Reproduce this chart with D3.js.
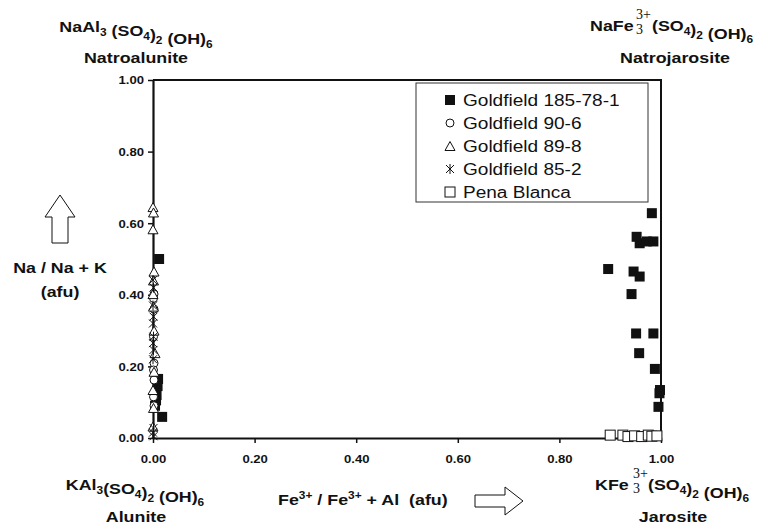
<!DOCTYPE html>
<html>
<head>
<meta charset="utf-8">
<script src="https://cdn.jsdelivr.net/npm/d3@7"></script>
<style>
  body { margin: 0; background: #fff; }
  svg { display: block; font-family: "Liberation Sans", Arial, sans-serif; }
</style>
</head>
<body>
<svg id="svg" width="760" height="525"></svg>
<script>
"use strict";

// x = Fe3+/(Fe3+ + Al), y = Na/(Na + K)
const seriesNames = ["Goldfield 185-78-1", "Goldfield 90-6", "Goldfield 89-8", "Goldfield 85-2", "Pena Blanca"];

const gf185 = [
    [0.012, 0.50], [0.010, 0.165], [0.009, 0.145], [0.007, 0.12], [0.006, 0.105],
    [0.004, 0.09], [0.018, 0.059],
    [0.982, 0.628], [0.952, 0.562], [0.958, 0.544], [0.972, 0.549], [0.985, 0.549],
    [0.896, 0.472], [0.946, 0.465], [0.958, 0.451], [0.942, 0.402],
    [0.951, 0.292], [0.985, 0.292], [0.957, 0.237], [0.988, 0.193],
    [0.998, 0.134], [0.997, 0.125], [0.995, 0.087]
];
const gf906 = [
    [0.002, 0.402], [0.001, 0.39], [0.002, 0.36], [0.001, 0.283], [0.002, 0.209],
    [0.001, 0.19], [0.002, 0.162], [0.001, 0.115], [0.002, 0.09]
];
const gf898 = [
    [0.000, 0.645], [0.001, 0.63], [0.000, 0.583], [0.002, 0.465], [0.001, 0.44],
    [0.000, 0.402], [0.001, 0.367], [0.002, 0.30], [0.004, 0.237], [0.002, 0.185],
    [0.000, 0.134], [0.001, 0.084], [0.000, 0.032]
];
const gf852 = [
    [0.000, 0.441], [0.001, 0.42], [0.000, 0.37], [0.001, 0.339], [0.000, 0.32],
    [0.001, 0.283], [0.000, 0.265], [0.001, 0.246], [0.000, 0.22],
    [0.001, 0.028], [0.000, 0.015], [0.001, 0.005]
];
const penaBlanca = [
    [0.900, 0.008], [0.925, 0.008], [0.935, 0.004], [0.948, 0.006],
    [0.962, 0.004], [0.975, 0.008], [0.982, 0.005], [0.992, 0.006]
];
const xTicks = [0, 0.2, 0.4, 0.6, 0.8, 1.0];
const yTicks = [0, 0.2, 0.4, 0.6, 0.8, 1.0];

const stretch = 1.19;
var svg = d3.select("svg");

var x = d3.scaleLinear().domain([0, 1]).range([153, 661]);
var y = d3.scaleLinear().domain([0, 1]).range([438, 80]);
var fmt = d3.format(".2f");

// frame (top and right)
svg.append("path")
    .attr("d", "M" + x(0) + "," + y(1) + "H" + x(1) + "V" + y(0))
    .attr("fill", "none").attr("stroke", "#111").attr("stroke-width", 2);

// axes
var xAxis = svg.append("g")
    .attr("transform", "translate(0," + y(0) + ")")
    .call(d3.axisBottom(x).tickValues(xTicks).tickFormat(fmt).tickSize(5).tickSizeOuter(0));
var yAxis = svg.append("g")
    .attr("transform", "translate(" + x(0) + ",0)")
    .call(d3.axisLeft(y).tickValues(yTicks).tickFormat(fmt).tickSize(5).tickSizeOuter(0));

[xAxis, yAxis].forEach(a => {
    a.select(".domain").attr("stroke", "#111").attr("stroke-width", 2.2);
    a.selectAll(".tick line").attr("stroke", "#111").attr("stroke-width", 1.5);
    a.selectAll(".tick text")
        .attr("font-family", "Liberation Sans, Arial, sans-serif")
        .attr("font-size", 11).attr("font-weight", "bold").attr("fill", "#111");
});
xAxis.selectAll(".tick text").attr("y", 0).attr("dy", 0)
    .attr("transform", "translate(0,25) scale(" + stretch + ",1)");
yAxis.selectAll(".tick text").attr("x", 0).attr("dy", "0.35em")
    .attr("transform", "translate(-9,0) scale(" + stretch + ",1)");

// legend box
svg.append("rect")
    .attr("x", 416).attr("y", 83).attr("width", 232).attr("height", 119)
    .attr("fill", "#fff").attr("stroke", "#333").attr("stroke-width", 1);

// symbols
function symbol(sel, type, s) {
    if (type === 0) {
        sel.append("rect").attr("x", -s / 2).attr("y", -s / 2).attr("width", s).attr("height", s)
            .attr("fill", "#111");
    } else if (type === 1) {
        sel.append("circle").attr("r", s / 2 - 0.5)
            .attr("fill", "#fff").attr("stroke", "#111").attr("stroke-width", 1);
    } else if (type === 2) {
        var h = s * 0.9;
        sel.append("path").attr("d", "M0," + (-h / 2) + "L" + (s / 2) + "," + (h / 2) + "L" + (-s / 2) + "," + (h / 2) + "Z")
            .attr("fill", "#fff").attr("stroke", "#111").attr("stroke-width", 1);
    } else if (type === 3) {
        var r = s / 2 - 1;
        sel.append("path")
            .attr("d", "M" + (-r) + "," + (-r) + "L" + r + "," + r + "M" + (-r) + "," + r + "L" + r + "," + (-r) + "M0," + (-r - 1) + "V" + (r + 1))
            .attr("fill", "none").attr("stroke", "#111").attr("stroke-width", 1);
    } else {
        sel.append("rect").attr("x", -s / 2).attr("y", -s / 2).attr("width", s).attr("height", s)
            .attr("fill", "#fff").attr("stroke", "#111").attr("stroke-width", 1);
    }
}

var allSeries = [gf185, gf906, gf898, gf852, penaBlanca];
allSeries.forEach((data, i) => {
    svg.append("g").selectAll("g")
        .data(data)
        .enter()
        .append("g")
            .attr("transform", d => "translate(" + x(d[0]) + "," + y(d[1]) + ")")
            .each(function() { symbol(d3.select(this), i, i === 1 ? 9 : 10); });
});

// legend entries
var leg = svg.append("g").selectAll("g")
    .data(seriesNames)
    .enter()
    .append("g")
        .attr("transform", (d, i) => "translate(450," + (100 + i * 23) + ")");
leg.each(function(d, i) { symbol(d3.select(this), i, i === 1 ? 9 : 10); });
leg.append("text")
    .attr("transform", "translate(13,5.5) scale(" + stretch + ",1)")
    .attr("font-size", 16).attr("fill", "#111")
    .text(d => d);

// bold stretched label helper
function label(txt, px, py, anchor) {
    return svg.append("text")
        .attr("transform", "translate(" + px + "," + py + ") scale(" + stretch + ",1)")
        .attr("text-anchor", anchor || "middle")
        .attr("font-size", 15).attr("font-weight", "bold").attr("fill", "#111")
        .text(txt);
}
function formula(t, parts) {
    parts.forEach(p => {
        if (p[1]) { t.append("tspan").attr("font-size", 10).attr("dy", 4).text(p[0]); t.append("tspan").attr("dy", -4).text(""); }
        else t.append("tspan").text(p[0]);
    });
}
function stacked(px, py) {
    svg.append("text").attr("x", px).attr("y", py - 12)
        .attr("font-family", "Liberation Serif, Times New Roman, serif")
        .attr("font-size", 14).attr("fill", "#111").text("3+");
    svg.append("text").attr("x", px).attr("y", py + 3)
        .attr("font-family", "Liberation Serif, Times New Roman, serif")
        .attr("font-size", 14).attr("fill", "#111").text("3");
}

// corner mineral labels
formula(label("", 136, 32), [["NaAl"], ["3", 1], [" (SO"], ["4", 1], [")"], ["2", 1], [" (OH)"], ["6", 1]]);
label("Natroalunite", 136, 63);
formula(label("", 135, 490), [["KAl"], ["3", 1], ["(SO"], ["4", 1], [")"], ["2", 1], [" (OH)"], ["6", 1]]);
label("Alunite", 136, 522);

label("NaFe", 590, 31, "start");
stacked(636, 31);
formula(label("", 652, 31, "start"), [["(SO"], ["4", 1], [")"], ["2", 1], [" (OH)"], ["6", 1]]);
label("Natrojarosite", 675, 63);

label("KFe", 595, 490, "start");
stacked(633, 490);
formula(label("", 648, 490, "start"), [["(SO"], ["4", 1], [")"], ["2", 1], [" (OH)"], ["6", 1]]);
label("Jarosite", 673, 522);

// axis titles
var xt = label("", 278, 505, "start");
xt.append("tspan").text("Fe");
xt.append("tspan").attr("font-size", 10).attr("dy", -6).text("3+");
xt.append("tspan").attr("dy", 6).text("\u00a0/ Fe");
xt.append("tspan").attr("font-size", 10).attr("dy", -6).text("3+");
xt.append("tspan").attr("dy", 6).text("\u00a0+ Al\u00a0\u00a0(afu)");

label("Na / Na + K", 60, 273);
label("(afu)", 60, 297);

// hollow arrows
svg.append("path")
    .attr("d", "M475,495 H505 V487 L523,501 L505,515 V507 H475 Z")
    .attr("fill", "#fff").attr("stroke", "#111").attr("stroke-width", 1);
svg.append("path")
    .attr("d", "M52,243 V217 H45 L60,195 L75,217 H68 V243 Z")
    .attr("fill", "#fff").attr("stroke", "#111").attr("stroke-width", 1);
</script>
</body>
</html>
